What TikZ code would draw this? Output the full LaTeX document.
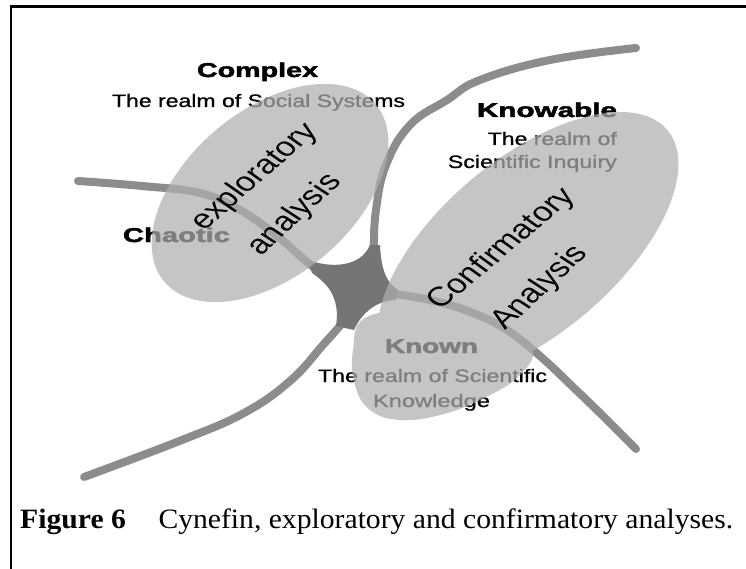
\documentclass[tikz,border=0pt]{standalone}
\usepackage{fontspec}
\usepackage{graphicx}
\setmainfont{Liberation Serif}
\newfontfamily\diagfont{Liberation Sans}
\newfontfamily\realmfont[FakeBold=0.9]{Liberation Sans}
\newfontfamily\heavyfont[FakeBold=2]{Liberation Sans Bold}
\definecolor{branchgray}{gray}{0.55}
\definecolor{coregray}{gray}{0.46}
\definecolor{veilgray}{gray}{0.686}
\newcommand{\fitw}[2]{\resizebox{#1}{\height}{#2}}
\newcommand{\tilt}[2]{\scalebox{1.29}[1]{\rotatebox{#1}{#2}}}

\begin{document}
\begin{tikzpicture}[
    x=1pt, y=-1pt,
    branch/.style={line width=8pt, draw=branchgray, line cap=round},
    veil/.style={fill=veilgray, fill opacity=0.72},
    zonename/.style={font=\heavyfont\fontsize{20}{20}\selectfont, inner sep=0pt},
    realm/.style={font=\realmfont\fontsize{18}{18}\selectfont, inner sep=0pt},
    tilted/.style={font=\diagfont\fontsize{27}{27}\selectfont, inner sep=0pt}
  ]
  \useasboundingbox (0,0) rectangle (746,569);

  % frame
  \draw[line width=2.2pt] (11,569) -- (11,6.5) -- (746,6.5);

  % the four boundaries and the centre
  \draw[branch] plot[smooth, tension=0.7] coordinates {(78,181) (142,186) (200,193) (240,210) (277,236) (307,262) (327,277)};
  \draw[branch] plot[smooth, tension=0.7] coordinates {(636,48) (550,60) (480,80) (447,100) (410,125) (386,165) (376,210) (374,250) (376,268)};
  \draw[branch] plot[smooth, tension=0.7] coordinates {(84,477) (182,440) (244,413) (290,381) (323,345) (347,317) (356,300)};
  \draw[branch] plot[smooth, tension=0.7] coordinates {(380,292) (430,300) (473,313) (507,330) (540,356) (573,387) (605,418) (636,449)};
  \fill[coregray] (308,260) .. controls (330,268) and (360,268) .. (370,245) -- (380,245)
    .. controls (381,268) and (386,283) .. (398,290) -- (396,300)
    .. controls (378,300) and (362,312) .. (354,330) -- (336,326)
    .. controls (340,300) and (330,285) .. (312,273) -- cycle;

  % domains
  \node[zonename, anchor=base] (complex) at (257.5,77) {\fitw{121pt}{Complex}};
  \node[realm, anchor=base] (complexsub) at (258.5,107) {\fitw{293pt}{The realm of Social Systems}};
  \node[zonename, anchor=base] (knowable) at (547,117) {\fitw{140pt}{Knowable}};
  \node[realm, anchor=base east] (knowablesub1) at (617,145) {\fitw{129pt}{The realm of}};
  \node[realm, anchor=base east] (knowablesub2) at (617,168) {\fitw{169pt}{Scientific Inquiry}};
  \node[zonename, anchor=base] (chaotic) at (176.5,242) {\fitw{107pt}{Chaotic}};
  \node[zonename, anchor=base] (known) at (431.5,353) {\fitw{93pt}{Known}};
  \node[realm, anchor=base] (knownsub1) at (432.5,382) {\fitw{229pt}{The realm of Scientific}};
  \node[realm, anchor=base] (knownsub2) at (431.5,407) {\fitw{117pt}{Knowledge}};

  % analysis areas
  \fill[veil] plot[domain=0:360, samples=90] ({270+138*cos(\x)*cos(40)-83*sin(\x)*sin(40)}, {193-138*cos(\x)*sin(40)-83*sin(\x)*cos(40)}) -- cycle;
  \fill[veil] plot[domain=0:360, samples=90] ({528+182*cos(\x)*cos(40)-88*sin(\x)*sin(40)}, {247-182*cos(\x)*sin(40)-88*sin(\x)*cos(40)}) -- cycle
    plot[smooth cycle, tension=0.7] coordinates {(530,345) (480,312) (420,310) (365,318) (353,350) (355,385) (370,410) (400,420) (440,415) (480,400) (520,375)};

  \node[tilted] (explo) at (255,177) {\tilt{48}{exploratory}};
  \node[tilted] (exploan) at (295,215) {\tilt{50}{analysis}};
  \node[tilted] (confirm) at (502,249) {\tilt{47}{Confirmatory}};
  \node[tilted] (confirman) at (540,288) {\tilt{50}{Analysis}};

  % caption
  \node[anchor=base west, inner sep=0pt] (caption) at (20,528)
    {\fitw{713pt}{\fontsize{28}{30}\selectfont\textbf{Figure 6}\hspace{1.1em}Cynefin, exploratory and confirmatory analyses.}};
\end{tikzpicture}
\end{document}
